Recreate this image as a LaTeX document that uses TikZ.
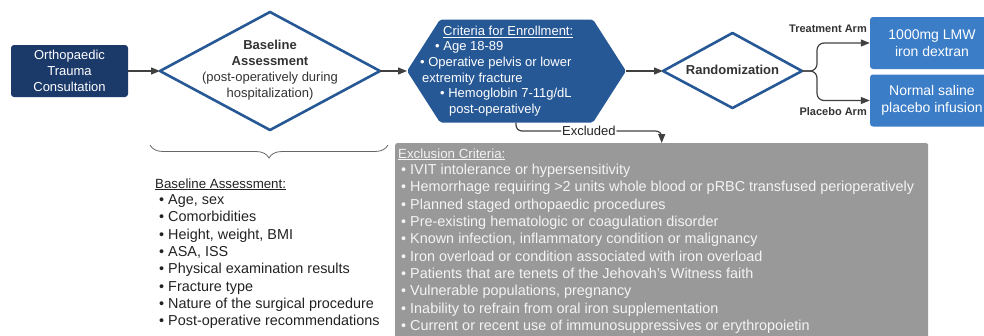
\documentclass[tikz,border=0pt]{standalone}
\usepackage{fontspec}
\setmainfont{Liberation Sans}
\usetikzlibrary{arrows.meta,decorations.pathreplacing,calc}
\definecolor{navy}{HTML}{1B3A6A}
\definecolor{midblue}{HTML}{275896}
\definecolor{lightblue}{HTML}{3B7DC7}
\definecolor{greybox}{HTML}{999999}
\definecolor{linegray}{HTML}{404040}
\definecolor{txtdark}{HTML}{333333}
\definecolor{txtlist}{HTML}{222222}
\definecolor{txtlight}{HTML}{F4F4F4}
\begin{document}
\begin{tikzpicture}[x=1pt,y=-1pt,
  conn/.style={draw=linegray, line width=1.2pt, -{Triangle[length=9pt,width=7pt]}},
  navybox/.style={fill=navy, text=white, rounded corners=3pt, inner sep=0pt, align=center,
    font=\fontsize{13}{16}\selectfont},
  armbox/.style={fill=lightblue, text=white, rounded corners=3pt, inner sep=0pt, align=center,
    minimum width=124pt, minimum height=52pt, font=\fontsize{14}{17}\selectfont},
  diamondline/.style={draw=midblue, line width=2.6pt, line join=round, fill=white},
  dtext/.style={text=txtdark, align=center, inner sep=0pt, font=\fontsize{13}{16}\selectfont},
  armlabel/.style={text=txtdark, inner sep=0pt, font=\fontsize{11}{13}\selectfont\bfseries},
  listtext/.style={anchor=north west, inner sep=0pt, align=left, font=\fontsize{14.4}{17.35}\selectfont},
  bracestyle/.style={draw=gray!80!black, line width=0.8pt, decorate, decoration={brace, amplitude=13pt}}
]
\useasboundingbox (0,0) rectangle (984,335);
\clip (0,0) rectangle (984,335);

% Orthopaedic box
\node[navybox, minimum width=117pt, minimum height=52pt] (orth) at (69.5,71) {Orthopaedic\\Trauma\\Consultation};

% Baseline diamond
\coordinate (d1w) at (160,71);
\coordinate (d1n) at (270,12);
\coordinate (d1e) at (380,71);
\coordinate (d1s) at (270,130);
\draw[diamondline] (d1w) -- (d1n) -- (d1e) -- (d1s) -- cycle;
\node[dtext] (d1) at (270,70) {\textbf{Baseline}\\\textbf{Assessment}\\(post-operatively during\\hospitalization)};
\draw[conn] (orth.east) -- (d1w);

% Hexagon
\coordinate (hw) at (407,71);
\coordinate (hnw) at (440,19.5);
\coordinate (hne) at (593,19.5);
\coordinate (he) at (626,71);
\coordinate (hse) at (593,122.5);
\coordinate (hsw) at (440,122.5);
\coordinate (hs) at (516,122.5);
\fill[midblue, rounded corners=2pt] (hw) -- (hnw) -- (hne) -- (he) -- (hse) -- (hsw) -- cycle;
\node[anchor=west, inner sep=0pt, align=left, text=white, font=\fontsize{13}{15.6}\selectfont] (crit) at (420,71)
 {\hspace*{23pt}\underline{Criteria for Enrollment:}\\
  \hspace*{15pt}• Age 18-89\\
  • Operative pelvis or lower\\
  \hspace*{2pt}extremity fracture\\
  \hspace*{20pt}• Hemoglobin 7-11g/dL\\
  \hspace*{29pt}post-operatively};
\draw[conn] (d1e) -- (hw);

% Randomization diamond
\coordinate (d2w) at (663,71);
\coordinate (d2n) at (732.5,33);
\coordinate (d2e) at (802,71);
\coordinate (d2s) at (732.5,108);
\draw[diamondline] (d2w) -- (d2n) -- (d2e) -- (d2s) -- cycle;
\node[dtext] (d2) at (732.5,70) {\textbf{Randomization}};
\draw[conn] (he) -- (d2w);

% Arms
\node[armbox] (trt) at (932,43) {1000mg LMW\\iron dextran};
\node[armbox] (plc) at (932,100.5) {Normal saline\\placebo infusion};
\draw[conn, rounded corners=7pt] (d2e) -- ++(15,0) |- (trt.west);
\draw[conn, rounded corners=7pt] (d2e) -- ++(15,0) |- (plc.west);
\node[armlabel, anchor=east] (tl) at (867,29) {Treatment Arm};
\node[armlabel, anchor=east] (pl) at (867,112) {Placebo Arm};

% Exclusion box
\node[fill=greybox, rounded corners=2pt, anchor=north west, minimum width=533pt, minimum height=200pt, inner sep=0pt] (exc) at (395,143) {};
\draw[conn] (hs) [rounded corners=6pt] |- ([yshift=12pt]exc.north)
   node[pos=0.75, fill=white, inner sep=1pt, text=txtlist, font=\fontsize{13}{15}\selectfont] (exlab) {Excluded}
   [sharp corners] -- (exc.north);
\node[listtext, text=txtlight] (exl) at (398,148.3)
 {{\fontsize{13.3}{17.35}\selectfont\underline{Exclusion Criteria:}}\\[-1pt]
  \hspace*{3pt}• IVIT intolerance or hypersensitivity\\
  \hspace*{3pt}• Hemorrhage requiring >2 units whole blood or pRBC transfused perioperatively\\
  \hspace*{3pt}• Planned staged orthopaedic procedures\\
  \hspace*{3pt}• Pre-existing hematologic or coagulation disorder\\
  \hspace*{3pt}• Known infection, inflammatory condition or malignancy\\
  \hspace*{3pt}• Iron overload or condition associated with iron overload\\
  \hspace*{3pt}• Patients that are tenets of the Jehovah’s Witness faith\\
  \hspace*{3pt}• Vulnerable populations, pregnancy\\
  \hspace*{3pt}• Inability to refrain from oral iron supplementation\\
  \hspace*{3pt}• Current or recent use of immunosuppressives or erythropoietin};

% Brace and baseline list
\coordinate (br1) at (388,145);
\coordinate (br2) at (150,145);
\draw[bracestyle] (br1) -- (br2);
\node[listtext, text=txtlist] (bl) at (155,178.3)
 {{\fontsize{13.3}{17.35}\selectfont\underline{Baseline Assessment:}}\\[-1pt]
  \hspace*{4pt}• Age, sex\\
  \hspace*{4pt}• Comorbidities\\
  \hspace*{4pt}• Height, weight, BMI\\
  \hspace*{4pt}• ASA, ISS\\
  \hspace*{4pt}• Physical examination results\\
  \hspace*{4pt}• Fracture type\\
  \hspace*{4pt}• Nature of the surgical procedure\\
  \hspace*{4pt}• Post-operative recommendations};
\end{tikzpicture}
\end{document}
